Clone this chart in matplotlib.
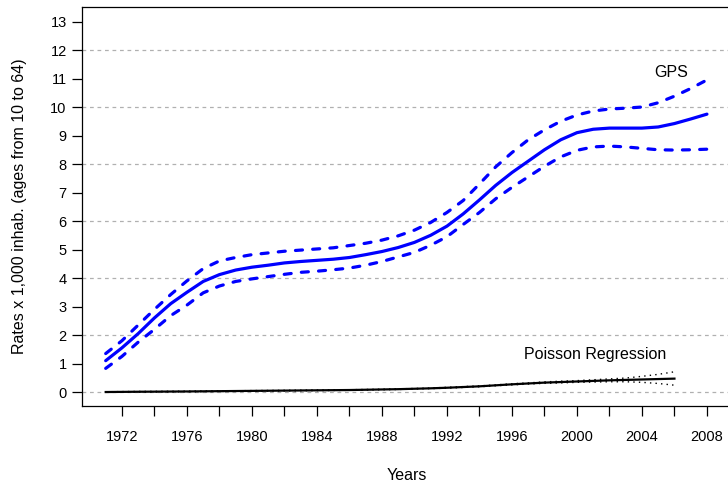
import matplotlib
matplotlib.use("Agg")
import matplotlib.pyplot as plt

# ============================================================
# Data.
# ============================================================

years = list(range(1971, 2009))

gps_rate = [
    1.10, 1.55, 2.05, 2.60, 3.10, 3.50, 3.88, 4.12, 4.28, 4.38,
    4.45, 4.53, 4.58, 4.62, 4.66, 4.72, 4.82, 4.93, 5.07, 5.25,
    5.50, 5.82, 6.25, 6.74, 7.25, 7.70, 8.10, 8.50, 8.85, 9.10,
    9.22, 9.26, 9.26, 9.26, 9.30, 9.42, 9.58, 9.75,
]

gps_upper = [
    1.35, 1.80, 2.35, 2.90, 3.42, 3.90, 4.33, 4.60, 4.72, 4.82,
    4.88, 4.94, 4.98, 5.02, 5.06, 5.14, 5.22, 5.33, 5.48, 5.68,
    5.95, 6.30, 6.72, 7.30, 7.90, 8.40, 8.85, 9.20, 9.50, 9.72,
    9.86, 9.93, 9.96, 10.00, 10.15, 10.38, 10.65, 10.95,
]

gps_lower = [
    0.83, 1.25, 1.75, 2.20, 2.68, 3.05, 3.48, 3.72, 3.88, 3.97,
    4.05, 4.13, 4.20, 4.24, 4.29, 4.35, 4.45, 4.58, 4.74, 4.90,
    5.15, 5.45, 5.88, 6.30, 6.78, 7.18, 7.55, 7.92, 8.25, 8.48,
    8.60, 8.63, 8.60, 8.55, 8.50, 8.49, 8.50, 8.52,
]

poisson_years = list(range(1971, 2007))

poisson_rate = [
    0.000, 0.005, 0.010, 0.013, 0.017, 0.020, 0.025, 0.030, 0.035, 0.040,
    0.045, 0.050, 0.055, 0.060, 0.065, 0.070, 0.080, 0.090, 0.100, 0.115,
    0.130, 0.150, 0.175, 0.200, 0.235, 0.270, 0.300, 0.330, 0.350, 0.370,
    0.390, 0.410, 0.425, 0.440, 0.455, 0.470,
]

poisson_upper = [
    0.010, 0.015, 0.020, 0.023, 0.027, 0.030, 0.035, 0.040, 0.045, 0.050,
    0.055, 0.060, 0.065, 0.070, 0.075, 0.080, 0.090, 0.100, 0.110, 0.125,
    0.140, 0.165, 0.190, 0.215, 0.250, 0.290, 0.320, 0.355, 0.380, 0.400,
    0.430, 0.460, 0.490, 0.550, 0.620, 0.710,
]

poisson_lower = [
    0.000, 0.000, 0.000, 0.003, 0.007, 0.010, 0.015, 0.020, 0.025, 0.030,
    0.035, 0.040, 0.045, 0.050, 0.055, 0.060, 0.070, 0.080, 0.090, 0.105,
    0.120, 0.135, 0.160, 0.185, 0.220, 0.250, 0.280, 0.305, 0.320, 0.340,
    0.350, 0.360, 0.360, 0.340, 0.300, 0.240,
]

y_ticks = list(range(0, 14))
grid_levels = [0, 2, 4, 6, 8, 10, 12]
x_major = list(range(1972, 2009, 4))
x_minor = list(range(1974, 2009, 4))


# ============================================================
# Figure and axes layout (R base-graphics look).
# ============================================================

plt.rcParams["font.family"] = ["Liberation Sans", "DejaVu Sans"]
plt.rcParams["font.size"] = 10.5

fig = plt.figure(figsize=(7.28, 4.82), dpi=100)
ax = fig.add_axes([0.1126, 0.1577, 0.9107, 0.8278])

ax.set_xlim(1969.54, 2010.34)
ax.set_ylim(-0.49, 13.51)

for level in grid_levels:
    ax.axhline(level, color="#b0b0b0", lw=0.9, linestyle=(0, (3, 3)), zorder=1)


# ============================================================
# GPS estimate with its confidence band.
# ============================================================

ax.plot(years, gps_rate, color="blue", lw=2.3, solid_capstyle="round", zorder=3)

for band in (gps_upper, gps_lower):
    ax.plot(
        years,
        band,
        color="blue",
        lw=2.3,
        linestyle=(0, (2.2, 3.2)),
        dash_capstyle="round",
        zorder=3,
    )


# ============================================================
# Poisson regression estimate with its confidence band.
# ============================================================

ax.plot(poisson_years, poisson_rate, color="black", lw=1.6, zorder=4)

for band in (poisson_upper, poisson_lower):
    ax.plot(
        poisson_years,
        band,
        color="black",
        lw=1.0,
        linestyle=(0, (1, 3)),
        zorder=4,
    )

ax.text(2005.8, 11.2, "GPS", ha="center", va="center", fontsize=11.5)
ax.text(2001.1, 1.33, "Poisson Regression", ha="center", va="center", fontsize=11.5)


# ============================================================
# Axes, ticks and labels.
# ============================================================

ax.set_yticks(y_ticks)
ax.set_xticks(x_major)
ax.set_xticks(x_minor, minor=True)

ax.tick_params(axis="both", which="both", direction="out", length=7, width=0.9)
ax.tick_params(axis="x", which="major", pad=10)
ax.tick_params(axis="y", pad=4)

for spine in ax.spines.values():
    spine.set_linewidth(0.9)

ax.set_xlabel("Years", fontsize=11.5, va="center")
ax.xaxis.set_label_coords(0.49, -0.173)

ax.set_ylabel("Rates x 1,000 inhab. (ages from 10 to 64)", fontsize=11.5, va="center")
ax.yaxis.set_label_coords(-0.094, 0.5)

fig.savefig("out.png", dpi=100)
